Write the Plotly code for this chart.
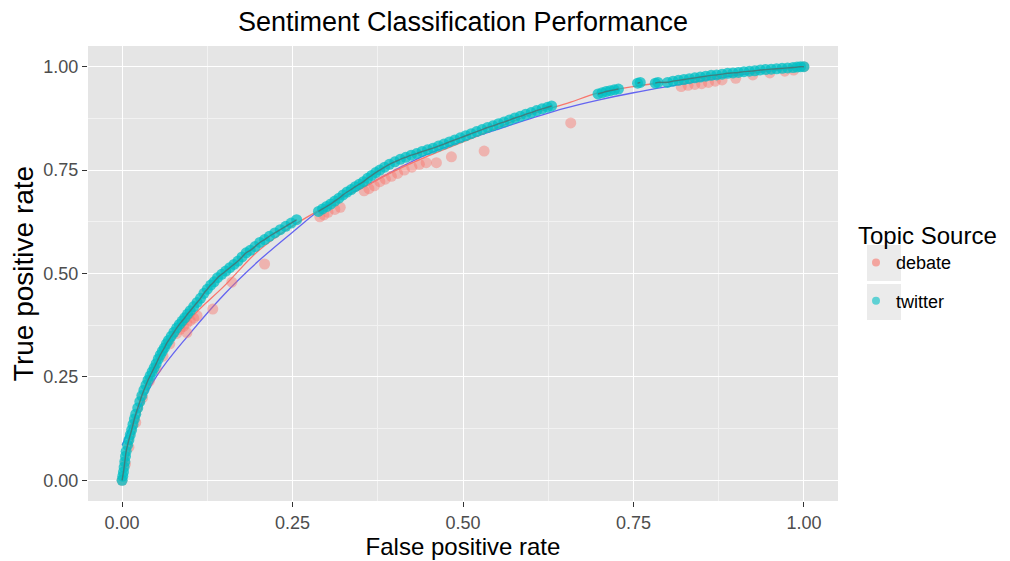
import plotly.graph_objects as go

# ---------------- data ----------------
twitter_fpr = [0.000, 0.001, 0.002, 0.003, 0.004, 0.005, 0.006, 0.008, 0.010, 0.012, 0.014, 0.016,
               0.018, 0.020, 0.023, 0.026, 0.029, 0.032, 0.035, 0.038, 0.041, 0.044, 0.047, 0.050,
               0.053, 0.056, 0.059, 0.062, 0.065, 0.068, 0.072, 0.076, 0.080, 0.084, 0.088, 0.092,
               0.096, 0.100, 0.105, 0.110, 0.115, 0.120, 0.125, 0.130, 0.135, 0.140, 0.146, 0.152,
               0.158, 0.164, 0.170, 0.176, 0.182, 0.188,
               0.195, 0.202, 0.209, 0.216, 0.224, 0.232, 0.240, 0.248, 0.256,
               0.288, 0.294, 0.300, 0.306, 0.312, 0.318, 0.324, 0.330, 0.336, 0.342, 0.348, 0.354,
               0.360, 0.366, 0.372, 0.378, 0.385, 0.392, 0.400, 0.408, 0.416, 0.424, 0.432, 0.440, 0.448,
               0.456, 0.464, 0.472, 0.480, 0.488, 0.496, 0.504, 0.512, 0.520, 0.528, 0.536, 0.544,
               0.552, 0.560, 0.568, 0.576, 0.584, 0.592, 0.600, 0.608, 0.616, 0.624, 0.630,
               0.698, 0.704, 0.710, 0.716, 0.722, 0.728, 0.756, 0.760, 0.782, 0.786,
               0.800, 0.808, 0.816, 0.824, 0.832, 0.840, 0.848, 0.856, 0.864, 0.872, 0.880, 0.888,
               0.896, 0.904, 0.912, 0.920, 0.928, 0.936, 0.944, 0.952, 0.960, 0.968, 0.976, 0.984,
               0.990, 0.995, 1.000]
twitter_tpr = [0.000, 0.010, 0.020, 0.032, 0.045, 0.058, 0.070, 0.085, 0.098, 0.110, 0.122, 0.135,
               0.148, 0.160, 0.175, 0.190, 0.205, 0.218, 0.230, 0.242, 0.252, 0.262, 0.272, 0.282,
               0.293, 0.303, 0.312, 0.320, 0.330, 0.338, 0.348, 0.358, 0.368, 0.377, 0.385, 0.393,
               0.402, 0.410, 0.420, 0.430, 0.440, 0.452, 0.462, 0.472, 0.480, 0.490, 0.498, 0.506,
               0.514, 0.522, 0.530, 0.540, 0.550, 0.556,
               0.565, 0.575, 0.582, 0.590, 0.598, 0.606, 0.614, 0.622, 0.630,
               0.650, 0.656, 0.662, 0.668, 0.675, 0.682, 0.690, 0.697, 0.703, 0.710, 0.716, 0.722,
               0.730, 0.737, 0.744, 0.750, 0.757, 0.764, 0.770, 0.776, 0.781, 0.786, 0.790, 0.795, 0.799,
               0.803, 0.808, 0.813, 0.818, 0.823, 0.828, 0.833, 0.838, 0.843, 0.848, 0.853, 0.857,
               0.862, 0.866, 0.871, 0.876, 0.880, 0.885, 0.889, 0.894, 0.898, 0.902, 0.905,
               0.934, 0.937, 0.940, 0.942, 0.944, 0.946, 0.960, 0.962, 0.960, 0.962,
               0.962, 0.965, 0.967, 0.969, 0.971, 0.973, 0.975, 0.977, 0.979, 0.980, 0.982, 0.984,
               0.985, 0.986, 0.988, 0.989, 0.990, 0.992, 0.993, 0.994, 0.995, 0.996, 0.997, 0.998,
               0.999, 1.000, 1.000]

debate_fpr = [0.000, 0.005, 0.010, 0.020, 0.030, 0.040, 0.050, 0.060, 0.070,
              0.080, 0.085, 0.090, 0.095, 0.100, 0.105, 0.110, 0.095,
              0.133, 0.161, 0.209,
              0.290, 0.296, 0.302, 0.312, 0.320,
              0.355, 0.362, 0.370, 0.378, 0.386, 0.395, 0.404, 0.414, 0.425, 0.436, 0.446,
              0.461, 0.483, 0.531, 0.658,
              0.820, 0.830, 0.840, 0.850, 0.860, 0.870, 0.880, 0.900, 0.925, 0.950, 0.972, 0.985, 1.000]
debate_tpr = [0.000, 0.040, 0.080, 0.140, 0.200, 0.240, 0.270, 0.300, 0.330,
              0.355, 0.365, 0.372, 0.380, 0.386, 0.392, 0.398, 0.357,
              0.414, 0.479, 0.523,
              0.637, 0.642, 0.648, 0.655, 0.660,
              0.700, 0.705, 0.712, 0.722, 0.728, 0.735, 0.742, 0.750, 0.757, 0.764, 0.768,
              0.768, 0.782, 0.796, 0.864,
              0.952, 0.955, 0.957, 0.959, 0.962, 0.965, 0.968, 0.972, 0.980, 0.985, 0.989, 0.992, 1.000]

# smoothed fits
smooth_x = [0.00, 0.05, 0.10, 0.15, 0.20, 0.25, 0.30, 0.35, 0.40, 0.45, 0.50,
            0.55, 0.60, 0.65, 0.70, 0.75, 0.80, 0.85, 0.90, 0.95, 1.00]
debate_smooth_y = [0.000, 0.270, 0.390, 0.470, 0.555, 0.615, 0.663, 0.705, 0.748, 0.785, 0.818,
                   0.852, 0.885, 0.910, 0.937, 0.952, 0.963, 0.972, 0.981, 0.990, 1.000]
overall_smooth_y = [0.085, 0.250, 0.356, 0.450, 0.530, 0.600, 0.665, 0.705, 0.750, 0.790, 0.820,
                    0.848, 0.875, 0.900, 0.920, 0.937, 0.952, 0.966, 0.979, 0.990, 1.000]

tick_vals = [0.0, 0.25, 0.5, 0.75, 1.0]
tick_text = ["0.00", "0.25", "0.50", "0.75", "1.00"]

RED = "#F8766D"
TEAL = "#00BFC4"
BLUE = "#6464F0"
DARK = "rgba(70,115,115,0.85)"
FONT = "Liberation Sans, Arial, sans-serif"

# break the twitter trace into contiguous clusters for the line seen through the points
seg_x, seg_y = [], []
for i, (xv, yv) in enumerate(zip(twitter_fpr, twitter_tpr)):
    if i > 0 and xv - twitter_fpr[i - 1] > 0.02:
        seg_x.append(None)
        seg_y.append(None)
    seg_x.append(xv)
    seg_y.append(yv)

fig = go.Figure()
fig.add_trace(go.Scatter(x=smooth_x, y=overall_smooth_y, mode="lines",
                         line=dict(color=BLUE, width=1.3, shape="spline"),
                         showlegend=False, hoverinfo="skip"))
fig.add_trace(go.Scatter(x=smooth_x, y=debate_smooth_y, mode="lines",
                         line=dict(color=RED, width=1.3, shape="spline"),
                         showlegend=False, hoverinfo="skip"))
fig.add_trace(go.Scatter(x=debate_fpr, y=debate_tpr, mode="markers", name="debate",
                         showlegend=False,
                         marker=dict(color=RED, size=11, opacity=0.45, line=dict(width=0))))
fig.add_trace(go.Scatter(x=twitter_fpr, y=twitter_tpr, mode="markers", name="twitter",
                         showlegend=False,
                         marker=dict(color=TEAL, size=11, opacity=0.75, line=dict(width=0))))
fig.add_trace(go.Scatter(x=seg_x, y=seg_y, mode="lines", connectgaps=False,
                         line=dict(color=DARK, width=1.4, shape="spline"),
                         showlegend=False, hoverinfo="skip"))
# legend entries
fig.add_trace(go.Scatter(x=[None], y=[None], mode="markers", name="debate", legendgroup="debate",
                         marker=dict(color=RED, size=8, opacity=0.6)))
fig.add_trace(go.Scatter(x=[None], y=[None], mode="markers", name="twitter", legendgroup="twitter",
                         marker=dict(color=TEAL, size=8, opacity=0.6)))

axis_common = dict(
    range=[-0.05, 1.05], tickvals=tick_vals, ticktext=tick_text, automargin=False,
    showgrid=True, gridcolor="white", gridwidth=1.4, zeroline=False,
    ticks="outside", ticklen=5, tickwidth=1, tickcolor="#333333",
    tickfont=dict(family=FONT, size=18, color="#4D4D4D"),
    minor=dict(dtick=0.125, tick0=0.125, showgrid=True, gridcolor="#F2F2F2", gridwidth=0.7),
    showline=False,
)

# page body has an 8px margin, so the figure is drawn 8px in from the window's corner
W, H = 1002, 553
L, T = 80, 38
PW, PH = 750, 455

fig.update_layout(
    width=W, height=H,
    paper_bgcolor="white", plot_bgcolor="#E5E5E5",
    margin=dict(l=L, r=W - L - PW, t=T, b=H - T - PH, autoexpand=False),
    title=dict(text="Sentiment Classification Performance", x=(L + PW / 2) / W,
               xanchor="center", y=1 - 14 / H, yanchor="middle",
               font=dict(family=FONT, size=27, color="black")),
    xaxis=dict(axis_common, title=dict(text="False positive rate", standoff=4,
                                       font=dict(family=FONT, size=24, color="black"))),
    yaxis=dict(axis_common, title=dict(text="True positive rate", standoff=4,
                                       font=dict(family=FONT, size=28, color="black"))),
    legend=dict(title=dict(text="Topic Source", font=dict(family=FONT, size=24, color="black")),
                font=dict(family=FONT, size=18, color="black"),
                x=1.024, xanchor="left", y=0.633, yanchor="top",
                tracegroupgap=12, bgcolor="rgba(0,0,0,0)"),
    shapes=[
        dict(type="rect", xref="paper", yref="paper", x0=1.0387, x1=1.084, y0=0.4835, y1=0.5626,
             fillcolor="#EBEBEB", line=dict(width=0), layer="below"),
        dict(type="rect", xref="paper", yref="paper", x0=1.0387, x1=1.084, y0=0.3978, y1=0.4769,
             fillcolor="#EBEBEB", line=dict(width=0), layer="below"),
    ],
)

fig.write_html("out.html")
